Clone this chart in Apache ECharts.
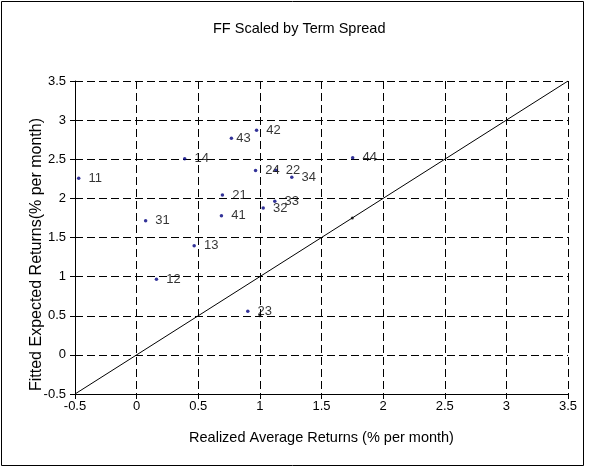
<!DOCTYPE html>
<html>
<head>
<meta charset="utf-8">
<script src="https://cdn.jsdelivr.net/npm/echarts@6/dist/echarts.min.js"></script>
<style>
html,body{margin:0;padding:0;background:#fff;}
#chart{width:589px;height:469px;}
</style>
</head>
<body>
<div id="chart"></div>
<script>
// Portfolio labels
const portfolios = ['11','12','13','14','21','22','23','24','31','32','33','34','41','42','43','44'];
// Realized average returns (% per month)
const realized = [-0.470, 0.161, 0.467, 0.390, 0.696, 1.131, 0.902, 0.965, 0.073, 1.027, 1.121, 1.259, 0.688, 0.973, 0.769, 1.753];
// Fitted expected returns (% per month)
const fitted = [2.258, 0.965, 1.395, 2.507, 2.044, 2.36, 0.557, 2.357, 1.714, 1.877, 1.963, 2.27, 1.778, 2.871, 2.769, 2.52];
// 45-degree reference line
const diagX = [-0.5, 3.5];
const diagY = [-0.5, 3.5];
// small black markers
const blackX = [1.75, 1.0];
const blackY = [1.75, 0.5];

const FONT = "'Liberation Sans', Arial, sans-serif";
const chart = echarts.init(document.getElementById('chart'), null, {renderer: 'canvas'});

const pts = portfolios.map((p, i) => ({
  value: [realized[i], fitted[i]],
  name: p,
  label: { distance: p === '43' ? 3 : 8 }
}));

chart.setOption({
  animation: false,
  backgroundColor: '#fff',
  title: {
    text: 'FF Scaled by Term Spread',
    left: 208,
    top: 16,
    textStyle: { fontFamily: FONT, fontSize: 14.5, fontWeight: 'normal', color: '#000' }
  },
  graphic: [{
    type: 'rect',
    shape: { x: 1.5, y: 1.5, width: 582, height: 464 },
    style: { fill: null, stroke: '#000', lineWidth: 1 },
    silent: true, z: -1
  }],
  grid: { left: 75, top: 81, width: 493, height: 313, containLabel: false },
  xAxis: {
    type: 'value', min: -0.5, max: 3.5, interval: 0.5,
    name: 'Realized Average Returns (% per month)',
    nameLocation: 'middle', nameGap: 36, nameMoveOverlap: false,
    nameTextStyle: { fontFamily: FONT, fontSize: 14.5, color: '#000' },
    axisLine: { show: true, onZero: false, lineStyle: { color: '#000', width: 1 } },
    axisTick: { show: true, length: 5, lineStyle: { color: '#000' } },
    axisLabel: { fontFamily: FONT, fontSize: 13, color: '#000', margin: 6, showMinLabel: true, showMaxLabel: true },
    splitLine: { show: true, lineStyle: { color: '#000', type: [8, 4], width: 1 } }
  },
  yAxis: {
    type: 'value', min: -0.5, max: 3.5, interval: 0.5,
    name: 'Fitted Expected Returns(% per month)',
    nameLocation: 'middle', nameGap: 30, nameMoveOverlap: false,
    nameTextStyle: { fontFamily: FONT, fontSize: 16, color: '#000', padding: [0, 34, 0, 0] },
    axisLine: { show: true, onZero: false, lineStyle: { color: '#000', width: 1 } },
    axisTick: { show: true, length: 5, lineStyle: { color: '#000' } },
    axisLabel: { fontFamily: FONT, fontSize: 13, color: '#000', margin: 9, showMinLabel: true, showMaxLabel: true },
    splitLine: { show: true, lineStyle: { color: '#000', type: [8, 4], width: 1 } }
  },
  series: [
    {
      type: 'line',
      data: diagX.map((x, i) => [x, diagY[i]]),
      showSymbol: false,
      lineStyle: { color: '#000', width: 1 },
      z: 3
    },
    {
      type: 'scatter',
      data: blackX.map((x, i) => [x, blackY[i]]),
      symbol: 'circle', symbolSize: 3,
      itemStyle: { color: '#000' },
      z: 4
    },
    {
      type: 'scatter',
      data: pts,
      symbol: 'circle', symbolSize: 3.5,
      itemStyle: { color: '#000080' },
      label: {
        show: true, position: 'right',
        formatter: p => p.name,
        fontFamily: FONT, fontSize: 13, color: '#000'
      },
      z: 5
    }
  ]
});
</script>
</body>
</html>
